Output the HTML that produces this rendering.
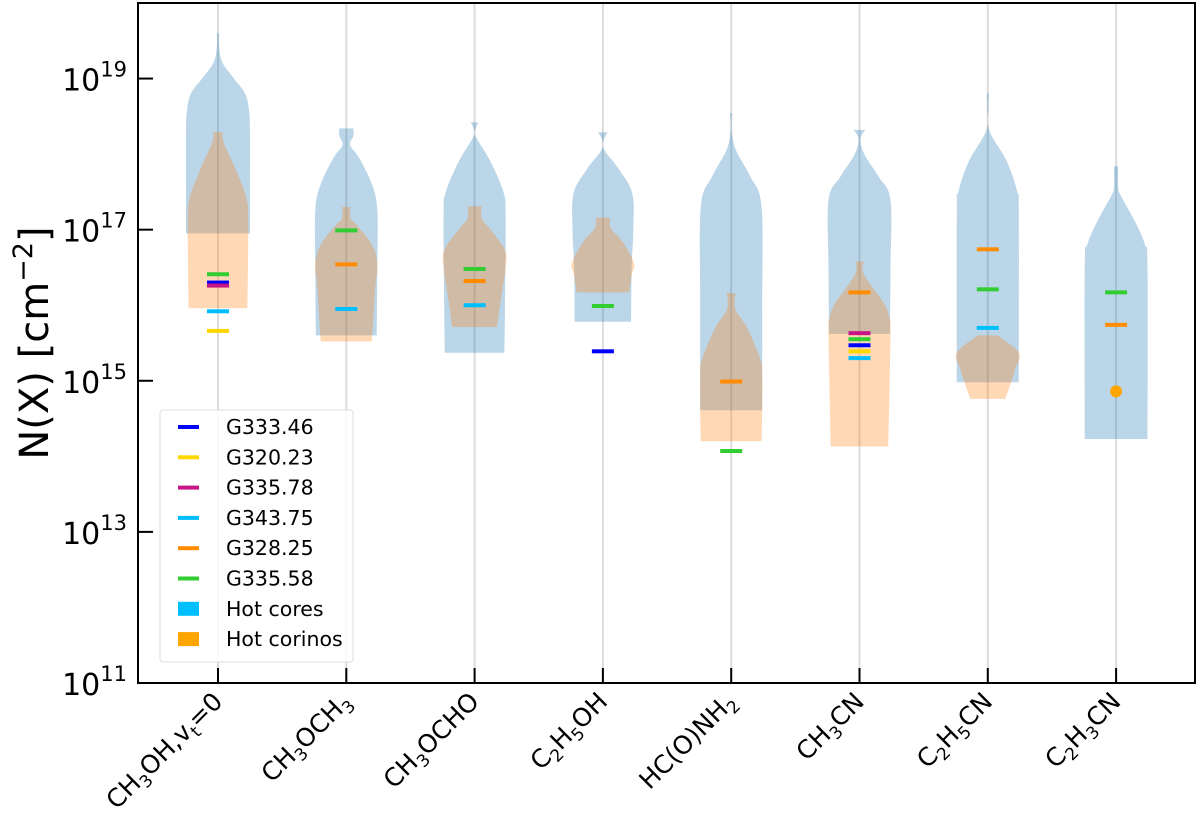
<!DOCTYPE html>
<html><head><meta charset="utf-8"><style>
body{margin:0;background:#fff}
svg{display:block;font-family:"DejaVu Sans","Liberation Sans",sans-serif}
</style></head><body>
<svg id="chart" width="1200" height="815" viewBox="0 0 1200 815" xmlns="http://www.w3.org/2000/svg">
<g id="grid"></g>
<g id="violins"></g>
<g id="marks"></g>
<g id="axes"></g>
<g id="legend"></g>
</svg>
<script>
// ---- data ----
const molecules = ["CH3OH,vt=0","CH3OCH3","CH3OCHO","C2H5OH","HC(O)NH2","CH3CN","C2H5CN","C2H3CN"];
const yTickExps = [11,13,15,17,19];
const sourceNames = ["G333.46","G320.23","G335.78","G343.75","G328.25","G335.58"];
const sourceColors = ["#0000ff","#ffd700","#c71585","#00bfff","#ff8c00","#32cd32"];
// log10 N(X) per molecule (null = not detected)
const g33346 = [16.30,null,null,15.39,null,15.47,null,null];
const g32023 = [15.66,null,null,null,null,15.39,null,null];
const g33578 = [16.26,null,null,null,null,15.63,null,null];
const g34375 = [15.92,15.95,16.00,null,null,15.30,15.70,null];
const g32825 = [null,16.54,16.32,null,14.99,16.17,16.74,15.74];
const g33558 = [16.41,16.99,16.48,15.99,14.07,15.55,16.21,16.17];
const corinoPointMol = [7];
const corinoPointVal = [14.86];
// violin profiles: [log10 N, relative half-width]
const coresProfiles = [
 [[19.6,0.03],[19.4,0.04],[19.2,0.15],[19.0,0.5],[18.8,0.85],[18.58,0.97],[18.3,1],[17.5,1],[16.95,1]],
 [[18.34,0.22],[18.24,0.22],[18.12,0.12],[17.95,0.4],[17.6,0.8],[17.26,0.97],[16.5,0.97],[15.6,0.95]],
 [[18.42,0.12],[18.32,0.02],[18.22,0.05],[17.9,0.5],[17.5,0.9],[17.2,0.97],[16.0,0.95],[15.37,0.93]],
 [[18.29,0.15],[18.18,0.02],[18.05,0.05],[17.8,0.5],[17.48,0.92],[17.0,0.95],[16.5,0.9],[15.78,0.88]],
 [[18.54,0.03],[18.3,0.02],[18.05,0.15],[17.7,0.6],[17.3,0.95],[16.0,0.97],[14.61,0.97]],
 [[18.32,0.18],[18.2,0.03],[18.0,0.15],[17.7,0.6],[17.39,0.97],[16.5,0.97],[15.62,0.95]],
 [[18.8,0.03],[18.6,0.02],[18.31,0.05],[17.9,0.6],[17.5,0.92],[17.22,0.97],[14.98,0.97]],
 [[17.84,0.07],[17.55,0.07],[17.45,0.15],[17.1,0.6],[16.8,0.9],[16.5,0.98],[14.23,0.98]]
];
const corinosProfiles = [
 [[18.29,0.15],[18.15,0.18],[17.8,0.55],[17.4,0.9],[17.0,0.95],[16.95,0.95],[15.96,0.92]],
 [[17.30,0.13],[17.15,0.13],[17.05,0.35],[16.8,0.8],[16.55,0.97],[16.2,0.9],[15.52,0.8]],
 [[17.31,0.22],[17.15,0.22],[17.0,0.5],[16.73,0.95],[16.5,0.97],[16.07,0.82],[15.71,0.7]],
 [[17.16,0.22],[17.02,0.25],[16.85,0.6],[16.56,0.97],[16.4,0.9],[16.17,0.82]],
 [[16.16,0.13],[15.95,0.13],[15.7,0.5],[15.3,0.9],[15.1,0.97],[14.61,0.97],[14.2,0.95]],
 [[16.58,0.13],[16.45,0.1],[16.3,0.3],[16.0,0.8],[15.8,0.95],[15.62,0.97],[14.13,0.9]],
 [[15.60,0.3],[15.37,0.97],[15.14,0.85],[14.76,0.55]],
 null
];
// ---- layout ----
const L=138,R=1195,T=3,B=683, yMin=11,yMax=20;
const NS="http://www.w3.org/2000/svg";
function xS(i){return 218+i*128.3;}
function yS(v){return B-(v-yMin)/(yMax-yMin)*(B-T);}
function mk(tag,attrs,parent){const e=document.createElementNS(NS,tag);for(const k in attrs)e.setAttribute(k,attrs[k]);parent.appendChild(e);return e;}
const grid=document.getElementById('grid'),vg=document.getElementById('violins'),mg=document.getElementById('marks'),ag=document.getElementById('axes'),lg=document.getElementById('legend');
molecules.forEach((m,i)=>{
  const l=mk('line',{x1:xS(i),x2:xS(i),y1:T,y2:B,stroke:'#dcdcdc','stroke-width':2},grid);
  
  
});
function spline(pts){ // catmull-rom path segments through pts (array of [x,y]) starting after first point
  let d='';
  for(let k=0;k<pts.length-1;k++){
    const p0=pts[Math.max(0,k-1)],p1=pts[k],p2=pts[k+1],p3=pts[Math.min(pts.length-1,k+2)];
    const c1=[p1[0]+(p2[0]-p0[0])/6,p1[1]+(p2[1]-p0[1])/6];
    const c2=[p2[0]-(p3[0]-p1[0])/6,p2[1]-(p3[1]-p1[1])/6];
    d+=' C'+c1[0].toFixed(1)+','+c1[1].toFixed(1)+' '+c2[0].toFixed(1)+','+c2[1].toFixed(1)+' '+p2[0].toFixed(1)+','+p2[1].toFixed(1);
  }
  return d;
}
function violin(prof,i,color,name){
  const hw=32;
  const right=prof.map(p=>[xS(i)+p[1]*hw,yS(p[0])]);
  const left=prof.map(p=>[xS(i)-p[1]*hw,yS(p[0])]).reverse();
  let d='M'+right[0][0].toFixed(1)+','+right[0][1].toFixed(1)+spline(right)+' L'+left[0][0].toFixed(1)+','+left[0][1].toFixed(1)+spline(left)+' Z';
  const pg=mk('path',{d:d,fill:color,'fill-opacity':0.3},vg);
  
  
}
coresProfiles.forEach((p,i)=>{if(p)violin(p,i,'#1f77b4','hot-cores-violin-'+i);});
corinosProfiles.forEach((p,i)=>{if(p)violin(p,i,'#ff7f0e','hot-corinos-violin-'+i);});
const series=[g33346,g32023,g33578,g34375,g32825,g33558];
series.forEach((s,k)=>{s.forEach((v,i)=>{if(v===null)return;
  const r=mk('rect',{x:xS(i)-11,y:yS(v)-2,width:22,height:4,fill:sourceColors[k]},mg);
  
  
});});
corinoPointMol.forEach((m,j)=>{
  const c=mk('circle',{cx:xS(m),cy:yS(corinoPointVal[j]),r:6,fill:'#ffa500'},mg);
  
  
});
const fr=mk('rect',{x:L,y:T,width:R-L,height:B-T,fill:'none',stroke:'#000','stroke-width':2},ag);


yTickExps.forEach(e=>{
  const y=yS(e);
  const t=mk('line',{x1:L,x2:L+15,y1:y,y2:y,stroke:'#000','stroke-width':2},ag);
  
  
  const tx=mk('text',{x:127,y:y+12,'text-anchor':'end','font-size':30},ag);
  
  
  tx.innerHTML='10<tspan font-size="21" dy="-14">'+e+'</tspan>';
});
const labelsHTML=["CH<tspan font-size='17' dy='6'>3</tspan><tspan dy='-6'>OH,v</tspan><tspan font-size='17' dy='6'>t</tspan><tspan dy='-6'>=0</tspan>",
"CH<tspan font-size='17' dy='6'>3</tspan><tspan dy='-6'>OCH</tspan><tspan font-size='17' dy='6'>3</tspan>",
"CH<tspan font-size='17' dy='6'>3</tspan><tspan dy='-6'>OCHO</tspan>",
"C<tspan font-size='17' dy='6'>2</tspan><tspan dy='-6'>H</tspan><tspan font-size='17' dy='6'>5</tspan><tspan dy='-6'>OH</tspan>",
"HC(O)NH<tspan font-size='17' dy='6'>2</tspan>",
"CH<tspan font-size='17' dy='6'>3</tspan><tspan dy='-6'>CN</tspan>",
"C<tspan font-size='17' dy='6'>2</tspan><tspan dy='-6'>H</tspan><tspan font-size='17' dy='6'>5</tspan><tspan dy='-6'>CN</tspan>",
"C<tspan font-size='17' dy='6'>2</tspan><tspan dy='-6'>H</tspan><tspan font-size='17' dy='6'>3</tspan><tspan dy='-6'>CN</tspan>"];
molecules.forEach((m,i)=>{
  const t=mk('line',{x1:xS(i),x2:xS(i),y1:B,y2:B-15,stroke:'#000','stroke-width':2},ag);
  
  
  const x=xS(i)+6,y=B+20;
  const tx=mk('text',{x:x,y:y,'text-anchor':'end','font-size':25,transform:'rotate(-45 '+x+' '+y+')'},ag);
  
  
  tx.innerHTML=labelsHTML[i];
});
const yl=mk('text',{x:0,y:0,'text-anchor':'middle','font-size':40,transform:'translate(48 343) rotate(-90)'},ag);


yl.innerHTML='N(X) [cm<tspan font-size="27" dy="-16">−2</tspan><tspan dy="16">]</tspan>';
const lb=mk('rect',{x:160,y:410,width:193,height:252,fill:'#fff','fill-opacity':0.85,stroke:'#ddd',rx:3},lg);


sourceNames.forEach((n,k)=>{
  const y=427+k*30.3;
  const h=mk('rect',{x:178,y:y-2,width:21,height:4,fill:sourceColors[k]},lg);
  
  
  const t=mk('text',{x:226,y:y+7,'font-size':20.5},lg);
  
  
  t.textContent=n;
});
[["Hot cores","#00bfff"],["Hot corinos","#ffa500"]].forEach((e,j)=>{
  const y=427+(6+j)*30.3;
  const h=mk('rect',{x:178,y:y-7,width:21,height:14,fill:e[1]},lg);
  
  
  const t=mk('text',{x:226,y:y+7,'font-size':20.5},lg);
  
  
  t.textContent=e[0];
});
</script>
</body></html>
